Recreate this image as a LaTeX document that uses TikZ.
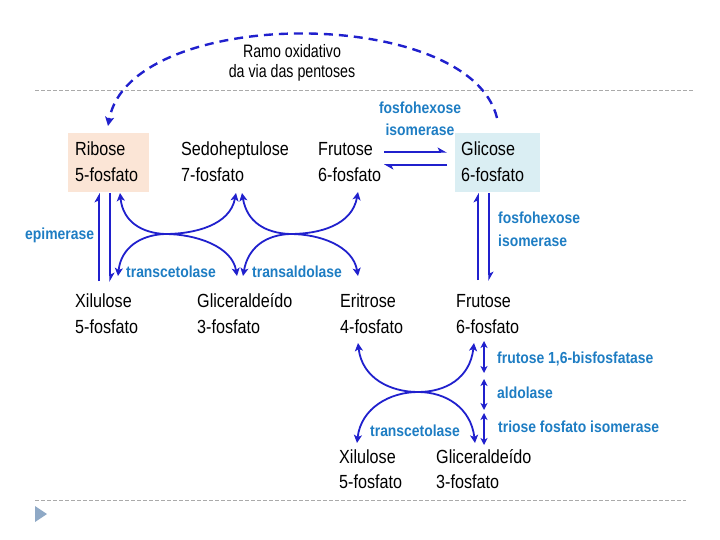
\documentclass[tikz,border=0pt]{standalone}
\usepackage{fontspec}
\setmainfont{Liberation Sans}
\newfontfamily\blkfont[FakeStretch=0.85]{Liberation Sans}
\newfontfamily\ramofont[FakeStretch=0.79]{Liberation Sans}
\newfontfamily\lblfont[FakeStretch=0.87]{Liberation Sans Bold}
\usetikzlibrary{arrows.meta}
\definecolor{arrc}{RGB}{32,32,205}
\definecolor{enzc}{RGB}{30,125,195}
\definecolor{ribc}{RGB}{251,229,214}
\definecolor{glcc}{RGB}{218,238,243}
\definecolor{sepc}{RGB}{170,170,170}
\definecolor{tric}{RGB}{143,169,198}
\newcommand\twol[2]{\vtop{\baselineskip=26pt\hbox{#1}\hbox{#2}}}
\newcommand\twoc[3]{\vtop{\baselineskip=#3\halign{\hfil##\hfil\cr #1\cr #2\cr}}}
\newcommand\twoe[2]{\vtop{\baselineskip=23pt\hbox{#1}\hbox{#2}}}
\tikzset{
  mol/.style={font=\blkfont\fontsize{19}{26}\selectfont, anchor=base west, inner sep=0pt},
  enz/.style={font=\lblfont\fontsize{16}{22}\selectfont, text=enzc, anchor=base west, inner sep=0pt},
  harp/.style={draw=arrc, line width=1.6pt, -{Stealth[harpoon,length=8pt,width=9pt,inset=2pt]}},
  curv/.style={draw=arrc, line width=1.8pt, {Stealth[length=8pt,width=8pt,inset=2pt]}-{Stealth[length=8pt,width=8pt,inset=2pt]}},
  dbl/.style={draw=arrc, line width=1.6pt, {Stealth[length=7pt,width=7pt,inset=2pt]}-{Stealth[length=7pt,width=7pt,inset=2pt]}},
  sep/.style={draw=sepc, line width=0.7pt, dash pattern=on 3.5pt off 2.5pt},
  oxarc/.style={draw=arrc, line width=2.4pt, dash pattern=on 9pt off 6pt, -{Stealth[length=9pt,width=9pt,inset=2pt]}}
}
\begin{document}
\begin{tikzpicture}[x=1pt,y=-1pt]
\useasboundingbox (0,0) rectangle (720,540);
% separators
\coordinate (s1a) at (35,90); \coordinate (s1b) at (694,90);
\coordinate (s2a) at (35,500); \coordinate (s2b) at (686,500);
\draw[sep] (s1a) -- (s1b);
\draw[sep] (s2a) -- (s2b);
\fill[tric] (35,506) -- (47,514) -- (35,522) -- cycle;
% boxes
\node[fill=ribc, minimum width=81pt, minimum height=59pt, inner sep=0pt] (ribbox) at (108.5,162.5) {};
\node[fill=glcc, minimum width=85pt, minimum height=59pt, inner sep=0pt] (glcbox) at (497.5,162.5) {};
% molecules
\node[mol] (rib) at (75,156) {\twol{Ribose}{5-fosfato}};
\node[mol] (sed) at (181,156) {\twol{Sedoheptulose}{7-fosfato}};
\node[mol] (fru1) at (318,156) {\twol{Frutose}{6-fosfato}};
\node[mol] (glc) at (461,156) {\twol{Glicose}{6-fosfato}};
\node[mol] (xil1) at (75,307) {\twol{Xilulose}{5-fosfato}};
\node[mol] (gap1) at (197,307) {\twol{Gliceraldeído}{3-fosfato}};
\node[mol] (eri) at (340,307) {\twol{Eritrose}{4-fosfato}};
\node[mol] (fru2) at (456,307) {\twol{Frutose}{6-fosfato}};
\node[mol] (xil2) at (339,463) {\vtop{\baselineskip=25pt\hbox{Xilulose}\hbox{5-fosfato}}};
\node[mol] (gap2) at (436,463) {\vtop{\baselineskip=25pt\hbox{Gliceraldeído}\hbox{3-fosfato}}};
% title of oxidative branch
\node[font=\ramofont\fontsize{18}{20}\selectfont, anchor=base, inner sep=0pt] (ramo) at (292,58) {\twoc{Ramo oxidativo}{da via das pentoses}{20pt}};
% enzymes
\node[enz, anchor=base] (fhi1) at (420,114) {\twoc{fosfohexose}{isomerase}{22pt}};
\node[enz] (epi) at (25,240) {epimerase};
\node[enz] (tk1) at (126,277) {transcetolase};
\node[enz] (ta) at (252,277) {transaldolase};
\node[enz] (fhi2) at (498,224) {\twoe{fosfohexose}{isomerase}};
\node[enz] (fbp) at (497,363) {frutose 1,6-bisfosfatase};
\node[enz] (ald) at (497,398) {aldolase};
\node[enz] (tpi) at (498,432) {triose fosfato isomerase};
\node[enz] (tk2) at (370,436) {transcetolase};
% oxidative branch arc
\coordinate (oxa) at (497,118); \coordinate (oxb) at (108,126);
\draw[oxarc] (oxa) .. controls (470,5) and (130,5) .. (oxb);
% epimerase
\coordinate (e1a) at (99,281); \coordinate (e1b) at (99,193);
\coordinate (e2a) at (110,193); \coordinate (e2b) at (110,282);
\draw[harp] (e1a) -- (e1b);
\draw[harp] (e2a) -- (e2b);
% fosfohexose isomerase horizontal
\coordinate (h1a) at (384,152); \coordinate (h1b) at (447,152);
\coordinate (h2a) at (447,165); \coordinate (h2b) at (384,165);
\draw[harp] (h1a) -- (h1b);
\draw[harp] (h2a) -- (h2b);
% fosfohexose isomerase vertical
\coordinate (v1a) at (478,280); \coordinate (v1b) at (478,193);
\coordinate (v2a) at (489,193); \coordinate (v2b) at (489,281);
\draw[harp] (v1a) -- (v1b);
\draw[harp] (v2a) -- (v2b);
% transketolase 1
\coordinate (t1a) at (120,193); \coordinate (t1b) at (236,193);
\coordinate (t1c) at (118,276); \coordinate (t1d) at (237,276);
\draw[curv] (t1a) .. controls (123,222) and (142,233) .. (165,234) .. controls (195,234) and (230,225) .. (t1b);
\draw[curv] (t1c) .. controls (121,248) and (140,235) .. (165,234) .. controls (195,234) and (232,246) .. (t1d);
% transaldolase
\coordinate (t2a) at (242,193); \coordinate (t2b) at (358,192);
\coordinate (t2c) at (243,276); \coordinate (t2d) at (358,276);
\draw[curv] (t2a) .. controls (247,222) and (265,233) .. (290,234) .. controls (320,234) and (352,225) .. (t2b);
\draw[curv] (t2c) .. controls (248,248) and (265,235) .. (290,234) .. controls (320,234) and (353,246) .. (t2d);
% transketolase 2
\coordinate (t3a) at (358,343); \coordinate (t3b) at (474,343);
\coordinate (t3c) at (357,443); \coordinate (t3d) at (475,443);
\draw[curv] (t3a) .. controls (362,378) and (390,392) .. (418,392) .. controls (446,392) and (470,378) .. (t3b);
\draw[curv] (t3c) .. controls (361,408) and (390,392) .. (418,392) .. controls (446,392) and (471,408) .. (t3d);
% glycolytic steps
\coordinate (d1a) at (484,341); \coordinate (d1b) at (484,373);
\coordinate (d2a) at (484,379); \coordinate (d2b) at (484,410);
\coordinate (d3a) at (484,413); \coordinate (d3b) at (484,445);
\draw[dbl] (d1a) -- (d1b);
\draw[dbl] (d2a) -- (d2b);
\draw[dbl] (d3a) -- (d3b);
\end{tikzpicture}
\end{document}
